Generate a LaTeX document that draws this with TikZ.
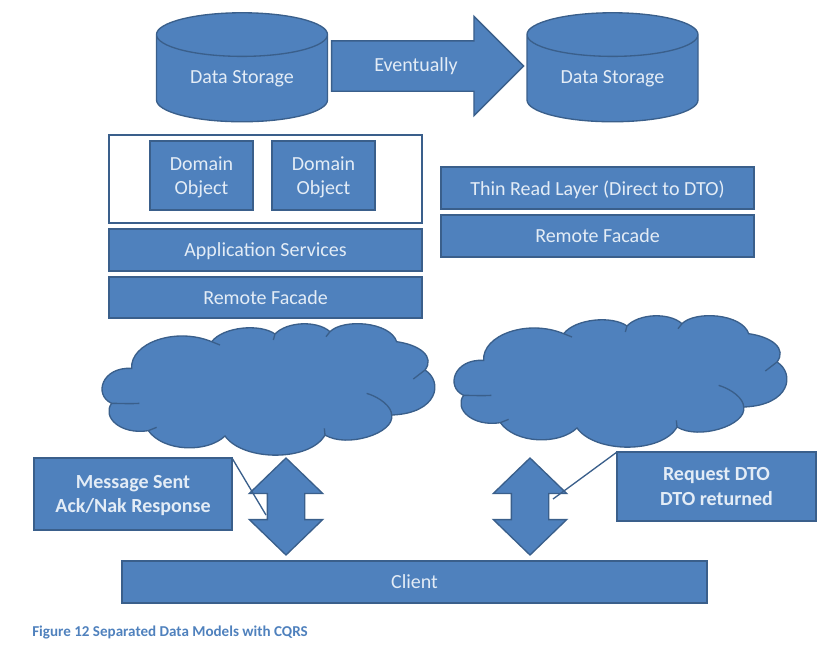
\documentclass[tikz,border=0pt]{standalone}
\usepackage{fontspec}
\setmainfont{Carlito}
\usetikzlibrary{shapes.geometric,shapes.arrows}
\definecolor{boxblue}{HTML}{4F81BD}
\definecolor{edgeblue}{HTML}{3A5F8B}
\definecolor{labelblue}{HTML}{E3ECF6}
\def\px{0.75pt}
\newcommand{\cloudoutline}{%
  (155,175) .. controls (150,100) and (285,50) .. (395,95)
  .. controls (430,50) and (540,40) .. (585,72)
  .. controls (620,35) and (710,30) .. (750,65)
  .. controls (790,25) and (930,35) .. (950,95)
  .. controls (1020,105) and (1065,140) .. (1035,180)
  .. controls (1090,215) and (1075,310) .. (935,315)
  .. controls (945,370) and (800,415) .. (735,375)
  .. controls (690,455) and (490,455) .. (435,378)
  .. controls (380,430) and (250,425) .. (205,362)
  .. controls (120,375) and (65,320) .. (95,280)
  .. controls (40,255) and (65,170) .. (155,175) -- cycle
  (395,95) -- (420,105) (585,72) -- (580,90) (750,65) -- (738,80)
  (1035,180) -- (1000,207) (735,375) -- (733,355) (205,362) -- (230,352)
  (95,280) .. controls (120,280) and (150,282) .. (178,280)
  (860,250) .. controls (900,262) and (935,290) .. (935,315)}
\tikzset{
  shape base/.style={draw=edgeblue, fill=boxblue, line width=1pt, text=labelblue,
    font=\fontsize{15pt}{18.5pt}\selectfont, align=center, inner sep=0pt, outer sep=0pt},
  block/.style={shape base, rectangle, text depth=0pt, minimum width=#1*\px},
  storage/.style={shape base, cylinder, shape border rotate=90, aspect=0.42,
    minimum height=109*\px, minimum width=171*\px},
  updown/.style={shape base, double arrow, rotate=90, minimum height=97*\px, minimum width=72*\px,
    inner ysep=18*\px, double arrow head extend=18*\px, double arrow tip angle=92},
  callout/.style={draw=edgeblue, line width=1pt},
}
\begin{document}
\begin{tikzpicture}[x=\px, y=-\px]
  \useasboundingbox (0,0) rectangle (837,650);
  % top row
  \node [storage] (store1) at (242,78.5) {Data Storage};
  \node [storage] (store2) at (612.5,78.5) {Data Storage};
  \node [shape base, single arrow, minimum height=192*\px, minimum width=98*\px, inner ysep=24.5*\px,
    single arrow head extend=24.5*\px, single arrow tip angle=90] (eventually) at (415,66) {};
  \node [text=labelblue, font=\fontsize{15pt}{18.5pt}\selectfont, inner sep=0pt] (eventuallytext) at (416,66) {Eventually};
  % write side
  \node [block=313, draw=edgeblue, fill=white, minimum height=88*\px] (domainbox) at (265.5,179) {};
  \node [block=103, minimum height=69*\px] (domain1) at (201.5,175.5) {Domain\\Object};
  \node [block=103, minimum height=69*\px] (domain2) at (323.5,175.5) {Domain\\Object};
  \node [block=313, minimum height=42*\px] (appservices) at (265.5,250) {Application Services};
  \node [block=313, minimum height=41*\px] (facade1) at (265.5,297.5) {Remote Facade};
  % read side
  \node [block=313, minimum height=42*\px] (thinread) at (597.5,188) {Thin Read Layer (Direct to DTO)};
  \node [block=313, minimum height=42*\px] (facade2) at (597.5,236) {Remote Facade};
  % clouds
  \begin{scope}[shift={(80,310)}, x=0.25pt, y=-0.25pt]
    \draw [draw=edgeblue, fill=boxblue, line width=1pt] \cloudoutline;
  \end{scope}
  \begin{scope}[shift={(432,302)}, x=0.25pt, y=-0.25pt]
    \draw [draw=edgeblue, fill=boxblue, line width=1pt] \cloudoutline;
  \end{scope}
  % bottom
  \node [updown] (arrow1) at (286,506.5) {};
  \node [updown] (arrow2) at (530,506.5) {};
  \node [block=198, minimum height=72*\px, font=\fontsize{15pt}{18.5pt}\selectfont\bfseries] (msg) at (133,494) {Message Sent\\Ack/Nak Response};
  \node [block=199, minimum height=69*\px, font=\fontsize{15pt}{18.5pt}\selectfont\bfseries] (req) at (716.5,486.5) {Request DTO\\DTO returned};
  \coordinate (msgtail) at (266,515);
  \coordinate (reqtail) at (553,499);
  \draw [callout] (msg.north east) -- (msgtail);
  \draw [callout] (req.north west) -- (reqtail);
  \node [block=585, minimum height=42*\px] (client) at (414.5,582) {Client};
  \node [anchor=west, text=boxblue, inner sep=0pt, font=\fontsize{11.3pt}{13pt}\selectfont\bfseries] (caption) at (32,632) {Figure 12 Separated Data Models with CQRS};
\end{tikzpicture}
\end{document}
